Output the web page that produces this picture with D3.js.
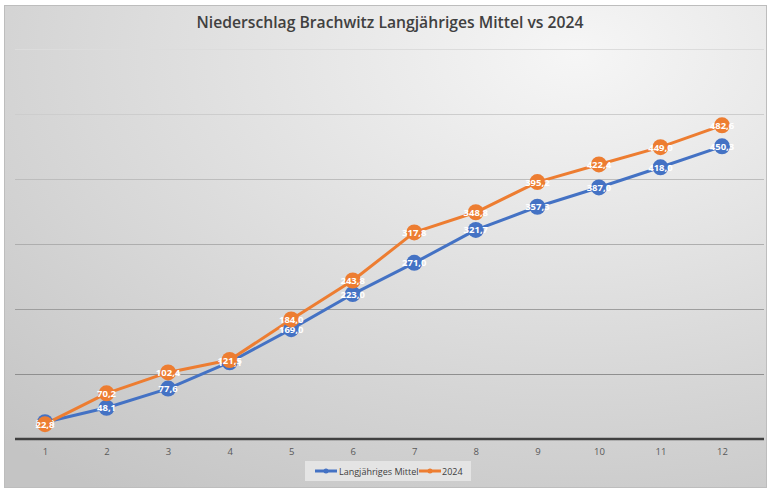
<!DOCTYPE html>
<html><head><meta charset="utf-8">
<script src="https://cdn.jsdelivr.net/npm/d3@7"></script>
<style>html,body{margin:0;padding:0;background:#fff;}svg{display:block;}</style>
</head><body>
<svg id="chart" width="771" height="491"></svg>
<script>
const months = ["1","2","3","4","5","6","7","8","9","10","11","12"];
const mittel = [25.8, 48.1, 77.6, 118.1, 169.0, 223.0, 271.0, 321.7, 357.3, 387.0, 418.0, 450.3];
const jahr2024 = [22.8, 70.2, 102.4, 121.5, 184.0, 243.8, 317.8, 348.8, 395.2, 422.4, 449.0, 482.6];
const yTicks = [100, 200, 300, 400, 500, 600];
const seriesNames = ["Langjähriges Mittel", "2024"];
const colors = ["#4472C4", "#ED7D31"];
const title = "Niederschlag Brachwitz Langjähriges Mittel vs 2024";

const svg = d3.select("#chart");
const defs = svg.append("defs");
const grad = defs.append("radialGradient").attr("id","bg")
  .attr("cx","75%").attr("cy","10%").attr("r","110%").attr("gradientUnits","objectBoundingBox");
grad.append("stop").attr("offset","0%").attr("stop-color","#f6f6f6");
grad.append("stop").attr("offset","100%").attr("stop-color","#c4c4c4");

svg.append("rect").attr("x",4.5).attr("y",5.5).attr("width",762).attr("height",482)
  .attr("fill","url(#bg)").attr("stroke","#bdbdbd").attr("stroke-width",1);

const x = d3.scalePoint().domain(months).range([45, 722]);
const y = d3.scaleLinear().domain([0, 600]).range([439, 49]);

const gridColor = d3.scaleLinear().domain([100, 600]).range(["#8f8f8f", "#dcdcdc"]);
svg.append("g").selectAll("line").data(yTicks).join("line")
  .attr("x1", 15).attr("x2", 764)
  .attr("y1", d => Math.round(y(d)) + 0.5).attr("y2", d => Math.round(y(d)) + 0.5)
  .attr("stroke", d => gridColor(d)).attr("stroke-width", 1);

// x axis
const xAxis = d3.axisBottom(x).tickSize(0).tickPadding(9);
const gx = svg.append("g").attr("transform", `translate(0,${y(0)})`).call(xAxis);
gx.select(".domain").remove();
gx.selectAll("text").attr("font-family","Open Sans, sans-serif").attr("font-size",9.5).attr("fill","#595959");
svg.append("line").attr("x1",15).attr("x2",764).attr("y1",y(0)).attr("y2",y(0))
  .attr("stroke","#404040").attr("stroke-width",2.5);

svg.append("text").attr("x", 390).attr("y", 28).attr("text-anchor","middle")
  .attr("font-family","Open Sans, sans-serif").attr("font-weight",600).attr("font-size",15.7)
  .attr("fill","#404040").text(title);

const data = [mittel, jahr2024];
const line = d3.line().x((d,i) => x(months[i])).y(d => y(d));
data.forEach((vals, s) => {
  svg.append("path").datum(vals).attr("d", line).attr("fill","none")
    .attr("stroke", colors[s]).attr("stroke-width", 3).attr("stroke-linejoin","round");
});
data.forEach((vals, s) => {
  const g = svg.append("g");
  g.selectAll("circle").data(vals).join("circle")
    .attr("cx", (d,i) => x(months[i])).attr("cy", d => y(d)).attr("r", 8)
    .attr("fill", colors[s]);
  g.selectAll("text").data(vals).join("text")
    .attr("x", (d,i) => x(months[i])).attr("y", d => y(d) + 3.5)
    .attr("text-anchor","middle").attr("font-family","Open Sans, sans-serif")
    .attr("font-weight",700).attr("font-size",9.5).attr("fill","#fff")
    .text(d => d3.format(".1f")(d).replace(".", ","));
});

// legend
const lg = svg.append("g");
lg.append("rect").attr("x",305).attr("y",461).attr("width",166).attr("height",20).attr("fill","#e4e4e4");
const items = [{x:315, tx:339}, {x:419, tx:442}];
items.forEach((it, s) => {
  lg.append("line").attr("x1",it.x).attr("x2",it.x+22).attr("y1",471).attr("y2",471)
    .attr("stroke",colors[s]).attr("stroke-width",3);
  lg.append("circle").attr("cx",it.x+11).attr("cy",471).attr("r",2.5).attr("fill",colors[s]);
  lg.append("text").attr("x",it.tx).attr("y",474.5).attr("font-family","Open Sans, sans-serif")
    .attr("font-size",9).attr("fill","#404040").text(seriesNames[s]);
});
</script>
</body></html>
